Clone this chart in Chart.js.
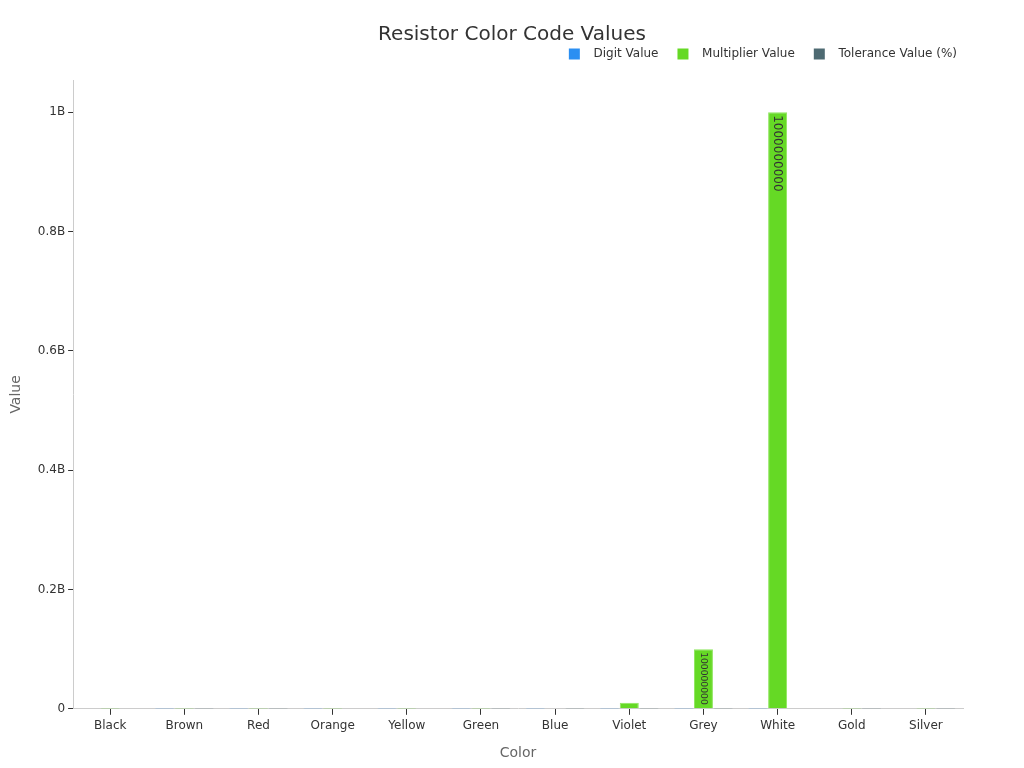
<!DOCTYPE html>
<html lang="en">
<head>
  <meta charset="UTF-8" />
  <title>Resistor Color Code Values</title>
  <script src="https://cdn.jsdelivr.net/npm/chart.js"></script>
  <style>
    html, body {
      margin: 0;
      padding: 0;
      background: #fff;
    }

    #wrap {
      width: 1024px;
      height: 768px;
    }
  </style>
</head>
<body>

  <div id="wrap">
    <canvas id="resistorChart"></canvas>
  </div>

  <script>
    const colors = ['Black', 'Brown', 'Red', 'Orange', 'Yellow', 'Green', 'Blue', 'Violet', 'Grey', 'White', 'Gold', 'Silver'];
    const digitValues = [0, 1, 2, 3, 4, 5, 6, 7, 8, 9, null, null];
    const multiplierValues = [1, 10, 100, 1000, 10000, 100000, 1000000, 10000000, 100000000, 1000000000, 0.1, 0.01];
    const toleranceValues = [null, 1, 2, null, null, 0.5, 0.25, 0.1, 0.05, null, 5, 10];
    const yTicks = [0, 200000000, 400000000, 600000000, 800000000, 1000000000];

    const fontFamily = "'DejaVu Sans', sans-serif";
    const chartTitle = 'Resistor Color Code Values';

    // title centred on the whole canvas, not on the padded chart box
    const centeredTitle = {
      id: 'centeredTitle',
      afterDraw: chart => {
        const ctx = chart.ctx;
        ctx.save();
        ctx.fillStyle = '#333';
        ctx.font = '20px ' + fontFamily;
        ctx.textAlign = 'center';
        ctx.textBaseline = 'middle';
        ctx.fillText(chartTitle, chart.width / 2, 35);
        ctx.restore();
      }
    };

    // legend: a bit more room below it, and nudged towards the right edge
    const legendTweak = {
      id: 'legendTweak',
      beforeInit: chart => {
        const legend = chart.legend;
        const fit = legend.fit;
        legend.fit = function () {
          fit.bind(legend)();
          this.height += 10;
        };
        const draw = legend.draw;
        legend.draw = function () {
          const ctx = chart.ctx;
          ctx.save();
          ctx.translate(13, 0);
          draw.bind(legend)();
          ctx.restore();
        };
      }
    };

    // value labels written vertically at the top of the tall multiplier bars
    const barLabels = {
      id: 'barLabels',
      afterDatasetsDraw: chart => {
        const ctx = chart.ctx;
        const meta = chart.getDatasetMeta(1);
        ctx.save();
        ctx.fillStyle = '#333';
        ctx.textAlign = 'left';
        ctx.textBaseline = 'middle';
        meta.data.forEach((bar, i) => {
          const h = bar.base - bar.y;
          if (h < 20) return;
          const text = String(multiplierValues[i]);
          const size = Math.min(12, (h - 6) / (text.length * 0.64));
          ctx.font = size.toFixed(1) + 'px ' + fontFamily;
          ctx.save();
          ctx.translate(bar.x, bar.y + 3);
          ctx.rotate(Math.PI / 2);
          ctx.fillText(text, 0, 0);
          ctx.restore();
        });
        ctx.restore();
      }
    };

    function shortNum(v) {
      if (v === 0) return '0';
      if (v >= 1e9) return (v / 1e9) + 'B';
      return (v / 1e9).toFixed(1) + 'B';
    }

    new Chart(document.getElementById('resistorChart'), {
      type: 'bar',
      data: {
        labels: colors,
        datasets: [
          {
            label: 'Digit Value',
            data: digitValues,
            backgroundColor: '#2b8ff2',
            borderColor: '#6fb3f7',
            borderWidth: 1
          },
          {
            label: 'Multiplier Value',
            data: multiplierValues,
            backgroundColor: '#65d925',
            borderColor: '#8fe65f',
            borderWidth: 1
          },
          {
            label: 'Tolerance Value (%)',
            data: toleranceValues,
            backgroundColor: '#4e6a72',
            borderColor: '#7d9399',
            borderWidth: 1
          }
        ]
      },
      options: {
        responsive: true,
        maintainAspectRatio: false,
        animation: false,
        layout: {
          padding: { left: 4, right: 61, top: 29, bottom: 2 }
        },
        datasets: {
          bar: {
            categoryPercentage: 0.8,
            barPercentage: 0.96
          }
        },
        plugins: {
          title: { display: false },
          legend: {
            position: 'top',
            align: 'end',
            labels: {
              boxWidth: 11,
              boxHeight: 11,
              padding: 19,
              color: '#333',
              font: { family: fontFamily, size: 12 },
              generateLabels: chart =>
                Chart.defaults.plugins.legend.labels.generateLabels(chart).map(item => {
                  item.text = '  ' + item.text;
                  item.lineWidth = 0;
                  return item;
                })
            }
          },
          tooltip: { enabled: false }
        },
        scales: {
          x: {
            title: {
              display: true,
              text: 'Color',
              color: '#666',
              font: { family: fontFamily, size: 14 },
              padding: { top: 8 }
            },
            grid: {
              display: true,
              offset: false,
              drawOnChartArea: false,
              tickLength: 6,
              color: '#333'
            },
            border: { color: '#ccc' },
            ticks: {
              color: '#333',
              font: { family: fontFamily, size: 12 },
              padding: 4
            }
          },
          y: {
            min: 0,
            max: 1054000000,
            title: {
              display: true,
              text: 'Value',
              color: '#666',
              font: { family: fontFamily, size: 14 },
              padding: { bottom: 10 }
            },
            grid: {
              display: true,
              drawOnChartArea: false,
              tickLength: 5,
              color: '#333'
            },
            border: { color: '#ccc' },
            afterBuildTicks: axis => {
              axis.ticks = yTicks.map(v => ({ value: v }));
            },
            ticks: {
              color: '#333',
              font: { family: fontFamily, size: 12 },
              padding: 3,
              callback: v => shortNum(v)
            }
          }
        }
      },
      plugins: [legendTweak, barLabels, centeredTitle]
    });
  </script>

</body>
</html>
